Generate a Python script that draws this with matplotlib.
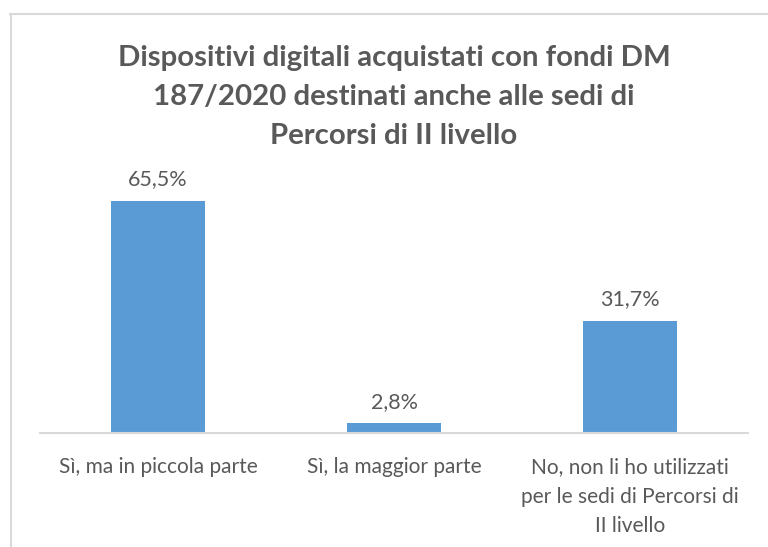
import matplotlib
matplotlib.use("Agg")
import matplotlib.pyplot as plt
from matplotlib.lines import Line2D

categories = ["Sì, ma in piccola parte", "Sì, la maggior parte",
              "No, non li ho utilizzati\nper le sedi di Percorsi di\nII livello"]
values = [65.5, 2.8, 31.7]
value_labels = ["65,5%", "2,8%", "31,7%"]
title = "Dispositivi digitali acquistati con fondi DM\n187/2020 destinati anche alle sedi di\nPercorsi di II livello"

plt.rcParams['font.family'] = ['Lato', 'DejaVu Sans']
TXT = "#595959"

fig = plt.figure(figsize=(7.68, 5.47), dpi=100)
W, H = 768, 547
ax = fig.add_axes([40 / W, 1 - 433 / H, 708 / W, (433 - 167) / H])

x = range(len(categories))
ax.bar(x, values, width=0.4, color="#5B9BD5", zorder=2)
ax.set_xlim(-0.5, 2.5)
ax.set_ylim(0, 75)
for xi, v, lab in zip(x, values, value_labels):
    ax.annotate(lab, (xi, v), xytext=(0, 8), textcoords="offset points",
                ha="center", va="bottom", fontsize=15.5, color=TXT)

ax.set_xticks(list(x))
ax.set_xticklabels(categories, fontsize=15, color=TXT, linespacing=1.62)
ax.tick_params(axis="x", length=0, pad=17)
ax.set_yticks([])
for s in ["left", "right", "top"]:
    ax.spines[s].set_visible(False)
ax.spines["bottom"].set_color("#D9D9D9")
ax.spines["bottom"].set_linewidth(1.5)

fig.text(394 / W, 1 - 97 / H, title, ha="center", va="center", fontsize=21.2,
         fontweight="bold", color=TXT, linespacing=1.62)

# chart area border (left and top)
fig.add_artist(Line2D([10.5 / W, 10.5 / W], [0, 1 - 14 / H], transform=fig.transFigure,
                      color="#D9D9D9", lw=1.5))
fig.add_artist(Line2D([10 / W, 1], [1 - 14 / H, 1 - 14 / H], transform=fig.transFigure,
                      color="#D9D9D9", lw=1.5))

fig.savefig("out.png", dpi=100)
